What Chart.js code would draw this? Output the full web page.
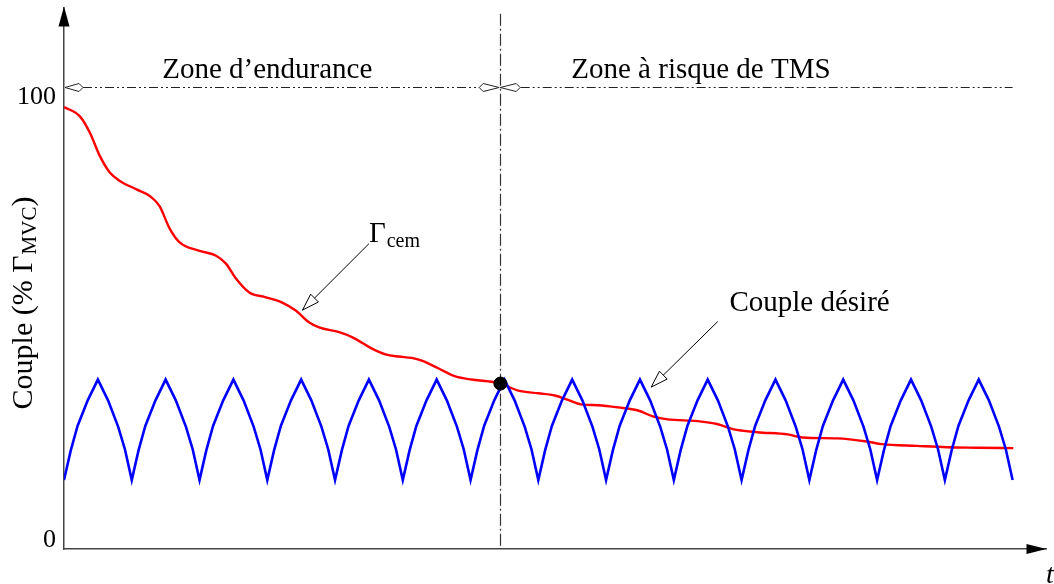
<!DOCTYPE html>
<html>
<head>
<meta charset="utf-8">
<script src="https://cdn.jsdelivr.net/npm/chart.js@4/dist/chart.umd.min.js"></script>
<style>
  html, body { margin: 0; padding: 0; background: #fff; overflow: hidden; }
</style>
</head>
<body>
<canvas id="couple" width="1054" height="584"></canvas>
<script>
const SERIF = '"Liberation Serif", "Times New Roman", serif';

// Γcem : couple maximal disponible (décroissant avec la fatigue)
const redX = [0, 0.235, 0.382, 0.53, 0.676, 0.824, 1.07, 1.265, 1.41, 1.56, 1.706, 2.0,
  2.245, 2.39, 2.54, 2.735, 2.98, 3.22, 3.42, 3.62, 3.765, 4.06, 4.25, 4.545, 4.745,
  4.94, 5.13, 5.28, 5.53, 5.775, 6.015, 6.265, 6.44, 6.705, 7.0, 7.245, 7.44, 7.63,
  7.88, 8.18, 8.47, 8.69, 8.91, 9.35, 9.65, 9.87, 10.235, 10.68, 10.9, 11.41, 11.85,
  12.07, 12.59, 13.03, 13.47, 14.01];
const redY = [99.9, 97.8, 94.1, 88.8, 85.1, 83.2, 81.3, 79.8, 77.5, 72.4, 69.3, 67.4,
  66.3, 64.5, 61.1, 58.0, 56.9, 55.7, 53.9, 51.2, 50.1, 49.0, 47.9, 45.3, 44.0,
  43.5, 43.2, 42.6, 40.8, 39.0, 38.3, 37.9, 37.4, 35.8, 35.2, 34.7, 33.7, 32.7,
  32.5, 32.0, 31.3, 30.0, 29.3, 28.9, 28.2, 27.1, 26.4, 25.9, 25.2, 25.0, 24.3,
  23.7, 23.3, 23.0, 22.9, 22.8];

// couple désiré : cycles répétés
const blueX = [
  0, 0.1, 0.2, 0.35, 0.5, 0.65, 0.8, 0.9,
  1, 1.1, 1.2, 1.35, 1.5, 1.65, 1.8, 1.9,
  2, 2.1, 2.2, 2.35, 2.5, 2.65, 2.8, 2.9,
  3, 3.1, 3.2, 3.35, 3.5, 3.65, 3.8, 3.9,
  4, 4.1, 4.2, 4.35, 4.5, 4.65, 4.8, 4.9,
  5, 5.1, 5.2, 5.35, 5.5, 5.65, 5.8, 5.9,
  6, 6.1, 6.2, 6.35, 6.5, 6.65, 6.8, 6.9,
  7, 7.1, 7.2, 7.35, 7.5, 7.65, 7.8, 7.9,
  8, 8.1, 8.2, 8.35, 8.5, 8.65, 8.8, 8.9,
  9, 9.1, 9.2, 9.35, 9.5, 9.65, 9.8, 9.9,
  10, 10.1, 10.2, 10.35, 10.5, 10.65, 10.8, 10.9,
  11, 11.1, 11.2, 11.35, 11.5, 11.65, 11.8, 11.9,
  12, 12.1, 12.2, 12.35, 12.5, 12.65, 12.8, 12.9,
  13, 13.1, 13.2, 13.35, 13.5, 13.65, 13.8, 13.9,
  14];
const blueY = [
  15.6, 22.3, 27.8, 33.6, 38.3, 33.6, 27.6, 22.5,
  15.6, 22.3, 27.8, 33.6, 38.3, 33.6, 27.6, 22.5,
  15.6, 22.3, 27.8, 33.6, 38.3, 33.6, 27.6, 22.5,
  15.6, 22.3, 27.8, 33.6, 38.3, 33.6, 27.6, 22.5,
  15.6, 22.3, 27.8, 33.6, 38.3, 33.6, 27.6, 22.5,
  15.6, 22.3, 27.8, 33.6, 38.3, 33.6, 27.6, 22.5,
  15.6, 22.3, 27.8, 33.6, 38.3, 33.6, 27.6, 22.5,
  15.6, 22.3, 27.8, 33.6, 38.3, 33.6, 27.6, 22.5,
  15.6, 22.3, 27.8, 33.6, 38.3, 33.6, 27.6, 22.5,
  15.6, 22.3, 27.8, 33.6, 38.3, 33.6, 27.6, 22.5,
  15.6, 22.3, 27.8, 33.6, 38.3, 33.6, 27.6, 22.5,
  15.6, 22.3, 27.8, 33.6, 38.3, 33.6, 27.6, 22.5,
  15.6, 22.3, 27.8, 33.6, 38.3, 33.6, 27.6, 22.5,
  15.6, 22.3, 27.8, 33.6, 38.3, 33.6, 27.6, 22.5,
  15.6];

const meetPoint = { x: 6.44, y: 37.4 };
const yTicks = [0, 100];

// zones en haut du graphe
const zoneSplitX = 6.43;
const zoneLineY = 104.4;
const zoneLineEnd = 14;
const zoneLabels = ['Zone d\u2019endurance', 'Zone à risque de TMS'];
const zoneLabelX = [3.0, 9.4];

// annotations fléchées (coordonnées en unités des axes)
const notes = [
  { label: '\u0393', sub: 'cem', from: [4.5, 69.0], tip: [3.52, 54.0], text: [4.5, 69.3] },
  { label: 'Couple désiré', sub: '', from: [9.647, 51.4], tip: [8.666, 36.6], text: [9.82, 53.9] }
];

function hollowHead(ctx, x0, y0, x1, y1) {
  const a = Math.atan2(y1 - y0, x1 - x0);
  const len = 17, half = 5.5;
  const bx = x1 - Math.cos(a) * len, by = y1 - Math.sin(a) * len;
  ctx.beginPath();
  ctx.moveTo(x1, y1);
  ctx.lineTo(bx + Math.sin(a) * half, by - Math.cos(a) * half);
  ctx.lineTo(bx - Math.sin(a) * half, by + Math.cos(a) * half);
  ctx.closePath();
  ctx.fillStyle = '#fff';
  ctx.fill();
  ctx.stroke();
}

function kite(ctx, tipX, y, dir, len) {
  // dir = -1 : pointe vers la gauche
  ctx.beginPath();
  ctx.moveTo(tipX, y);
  ctx.lineTo(tipX - dir * (len - 4), y - 4);
  ctx.lineTo(tipX - dir * len, y);
  ctx.lineTo(tipX - dir * (len - 4), y + 4);
  ctx.closePath();
  ctx.fillStyle = '#fff';
  ctx.fill();
  ctx.stroke();
}

const decor = {
  id: 'decor',
  beforeDatasetsDraw(chart) {
    const { ctx, chartArea, scales: { x, y } } = chart;
    const px = Math.round(x.getPixelForValue(zoneSplitX)) + 0.5;
    ctx.save();
    ctx.strokeStyle = '#333';
    ctx.lineWidth = 1.2;
    ctx.setLineDash([12, 3, 2, 3]);
    ctx.beginPath();
    ctx.moveTo(px, y.getPixelForValue(121));
    ctx.lineTo(px, chartArea.bottom);
    ctx.stroke();
    ctx.restore();
  },
  afterDraw(chart) {
    const { ctx, chartArea, scales: { x, y } } = chart;
    ctx.save();

    // flèches des axes
    ctx.fillStyle = '#000';
    const ax = x.getPixelForValue(0), ay = chartArea.bottom;
    ctx.beginPath();
    ctx.moveTo(ax, chartArea.top - 1);
    ctx.lineTo(ax - 5.5, chartArea.top + 19);
    ctx.lineTo(ax + 5.5, chartArea.top + 19);
    ctx.closePath();
    ctx.fill();
    ctx.beginPath();
    ctx.moveTo(chartArea.right, ay);
    ctx.lineTo(chartArea.right - 20, ay - 5);
    ctx.lineTo(chartArea.right - 20, ay + 5);
    ctx.closePath();
    ctx.fill();

    // ligne des zones
    const ly = Math.round(y.getPixelForValue(zoneLineY)) + 0.5;
    const sx = x.getPixelForValue(zoneSplitX);
    ctx.strokeStyle = '#222';
    ctx.lineWidth = 1;
    ctx.setLineDash([9, 3, 2, 3, 2, 3]);
    ctx.beginPath();
    ctx.moveTo(ax + 19, ly); ctx.lineTo(sx - 20, ly);
    ctx.moveTo(sx + 21, ly); ctx.lineTo(x.getPixelForValue(zoneLineEnd), ly);
    ctx.stroke();
    ctx.setLineDash([]);
    kite(ctx, ax + 1, ly, -1, 18);
    kite(ctx, sx - 0.5, ly, 1, 20);
    kite(ctx, sx + 0.5, ly, -1, 20);

    ctx.fillStyle = '#000';
    ctx.font = '29px ' + SERIF;
    ctx.textAlign = 'center';
    ctx.textBaseline = 'alphabetic';
    zoneLabels.forEach((t, i) => ctx.fillText(t, x.getPixelForValue(zoneLabelX[i]), ly - 10));

    // annotations
    ctx.textAlign = 'left';
    ctx.strokeStyle = '#000';
    ctx.lineWidth = 1;
    notes.forEach(n => {
      const x0 = x.getPixelForValue(n.from[0]), y0 = y.getPixelForValue(n.from[1]);
      const x1 = x.getPixelForValue(n.tip[0]), y1 = y.getPixelForValue(n.tip[1]);
      ctx.beginPath();
      ctx.moveTo(x0, y0);
      ctx.lineTo(x1, y1);
      ctx.stroke();
      hollowHead(ctx, x0, y0, x1, y1);
      const tx = x.getPixelForValue(n.text[0]), ty = y.getPixelForValue(n.text[1]);
      ctx.fillStyle = '#000';
      ctx.font = '29px ' + SERIF;
      ctx.fillText(n.label, tx, ty);
      if (n.sub) {
        const w = ctx.measureText(n.label).width;
        ctx.font = '20px ' + SERIF;
        ctx.fillText(n.sub, tx + w + 1, ty + 5);
      }
    });

    // titre de l'axe vertical
    ctx.translate(32, 303);
    ctx.rotate(-Math.PI / 2);
    const p1 = 'Couple (% \u0393', p3 = ')';
    ctx.font = '21px ' + SERIF;
    const w2 = ctx.measureText('MVC').width;
    ctx.font = '30px ' + SERIF;
    const w1 = ctx.measureText(p1).width, w3 = ctx.measureText(p3).width;
    let cx = -(w1 + w2 + w3 + 1) / 2;
    ctx.fillText(p1, cx, 0);
    cx += w1 + 1;
    ctx.font = '21px ' + SERIF;
    ctx.fillText('MVC', cx, 4);
    cx += w2;
    ctx.font = '30px ' + SERIF;
    ctx.fillText(p3, cx, 0);
    ctx.setTransform(1, 0, 0, 1, 0, 0);

    // t
    ctx.font = 'italic 28px ' + SERIF;
    ctx.fillText('t', 1046, 583);
    ctx.restore();
  }
};

const pts = (xs, ys) => xs.map((v, i) => ({ x: v, y: ys[i] }));

new Chart(document.getElementById('couple'), {
  type: 'scatter',
  data: {
    datasets: [
      {
        data: [meetPoint],
        pointRadius: 6.5,
        pointBackgroundColor: '#000',
        pointBorderColor: '#000',
        showLine: false
      },
      {
        data: pts(blueX, blueY),
        showLine: true,
        borderColor: '#0000ff',
        borderWidth: 2.6,
        pointRadius: 0,
        tension: 0
      },
      {
        data: pts(redX, redY),
        showLine: true,
        borderColor: '#ff0000',
        borderWidth: 2.4,
        pointRadius: 0,
        cubicInterpolationMode: 'monotone'
      }
    ]
  },
  options: {
    responsive: false,
    animation: false,
    events: [],
    layout: { padding: { top: 6, right: 4, left: 0, bottom: 0 } },
    plugins: {
      legend: { display: false },
      tooltip: { enabled: false }
    },
    scales: {
      x: {
        type: 'linear',
        min: 0,
        max: 14.5,
        grid: { display: false, drawTicks: false },
        border: { display: true, color: '#444', width: 1.5 },
        ticks: { display: false },
        afterFit(s) {
          s.height = 35;
          s.paddingLeft = 0;
          s.paddingRight = 0;
        }
      },
      y: {
        type: 'linear',
        min: 0,
        max: 122.4,
        grid: { display: false, drawTicks: false },
        border: { display: true, color: '#444', width: 1.5 },
        ticks: {
          color: '#000',
          font: { family: SERIF, size: 26 },
          padding: 8,
          labelOffset: -9
        },
        afterBuildTicks(s) { s.ticks = yTicks.map(v => ({ value: v })); },
        afterFit(s) {
          s.width = 64;
          s.paddingTop = 0;
          s.paddingBottom = 0;
        }
      }
    }
  },
  plugins: [decor]
});
</script>
</body>
</html>
